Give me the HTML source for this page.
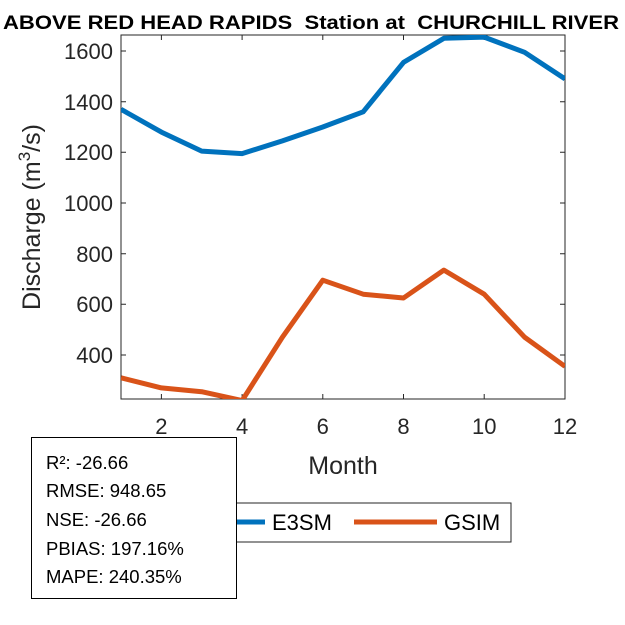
<!DOCTYPE html>
<html><head><style>body{margin:0;background:#fff}svg{display:block}</style></head><body>
<svg width="625" height="625" xmlns="http://www.w3.org/2000/svg" font-family="Liberation Sans, Arial, sans-serif">
<defs><clipPath id="c"><rect x="121" y="35" width="444" height="364"/></clipPath></defs>
<text x="3" y="29" font-size="19" font-weight="bold" textLength="616" lengthAdjust="spacingAndGlyphs">ABOVE RED HEAD RAPIDS&#160; Station at&#160; CHURCHILL RIVER</text>
<g stroke="#262626" stroke-width="1" fill="none">
<rect x="121" y="35" width="444" height="364"/>
<path d="M161.4 399v-5M242.1 399v-5M322.8 399v-5M403.5 399v-5M484.2 399v-5M565 399v-5M161.4 35v5M242.1 35v5M322.8 35v5M403.5 35v5M484.2 35v5
M121 51h5M121 101.7h5M121 152.3h5M121 203h5M121 253.7h5M121 304.3h5M121 355h5
M565 51h-5M565 101.7h-5M565 152.3h-5M565 203h-5M565 253.7h-5M565 304.3h-5M565 355h-5"/>
</g>
<g font-size="22" fill="#262626" text-anchor="end">
<text x="113" y="59">1600</text><text x="113" y="110">1400</text><text x="113" y="160">1200</text><text x="113" y="211">1000</text><text x="113" y="262">800</text><text x="113" y="312">600</text><text x="113" y="363">400</text>
</g>
<g font-size="22" fill="#262626" text-anchor="middle">
<text x="161.4" y="434">2</text><text x="242.1" y="434">4</text><text x="322.8" y="434">6</text><text x="403.5" y="434">8</text><text x="484.2" y="434">10</text><text x="565" y="434">12</text>
</g>
<text x="343" y="474" font-size="25" fill="#262626" text-anchor="middle">Month</text>
<text transform="translate(40,217) rotate(-90)" font-size="25" fill="#262626" text-anchor="middle">Discharge (m<tspan font-size="17" dy="-10">3</tspan><tspan dy="10">/s)</tspan></text>
<g clip-path="url(#c)" fill="none" stroke-width="5" stroke-linejoin="round">
<polyline stroke="#0072BD" points="121,109.3 161.4,132.1 201.7,151.1 242.1,153.6 282.4,140.9 322.8,127 363.2,111.8 403.5,62.4 443.9,38.3 484.2,37.1 524.6,52.3 565,78.9"/>
<polyline stroke="#D95319" points="121,377.8 161.4,387.9 201.7,391.7 242.1,400.6 282.4,337.2 322.8,280.2 363.2,294.2 403.5,298 443.9,270.1 484.2,294.2 524.6,337.2 565,366.4"/>
</g>
<rect x="170" y="503" width="341" height="39" fill="#fff" stroke="#262626"/>
<line x1="182" y1="522" x2="265" y2="522" stroke="#0072BD" stroke-width="5"/>
<text x="272" y="530" font-size="22">E3SM</text>
<line x1="354" y1="522" x2="437" y2="522" stroke="#D95319" stroke-width="5"/>
<text x="444" y="530" font-size="22">GSIM</text>
<rect x="31.5" y="437.5" width="205" height="161" fill="#fff" stroke="#000"/>
<g font-size="18.5">
<text x="46" y="469">R²: -26.66</text>
<text x="46" y="497">RMSE: 948.65</text>
<text x="46" y="526">NSE: -26.66</text>
<text x="46" y="555">PBIAS: 197.16%</text>
<text x="46" y="583">MAPE: 240.35%</text>
</g>
</svg>
</body></html>
